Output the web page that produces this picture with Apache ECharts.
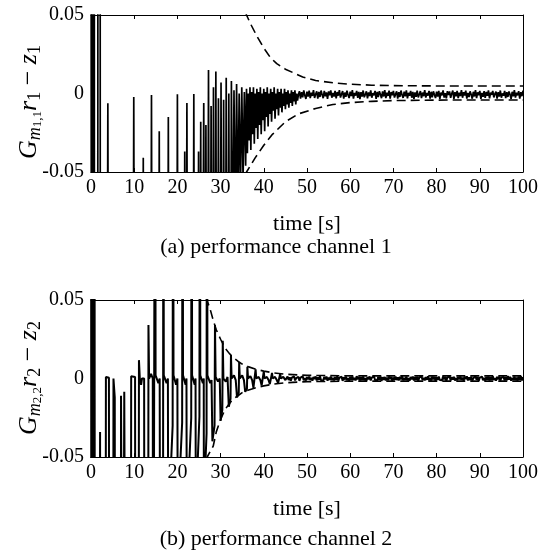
<!DOCTYPE html>
<html><head><meta charset="utf-8">
<script src="https://cdn.jsdelivr.net/npm/echarts@6/dist/echarts.min.js"></script>
<style>html,body{margin:0;padding:0;background:#fff}#c{width:552px;height:550px}</style>
</head><body><div id="c"></div><script>
// ---------- DATA ----------
var xTicks = [0,10,20,30,40,50,60,70,80,90,100];
var yTicks = [-0.05, 0, 0.05];
var captions = ['(a) performance channel 1', '(b) performance channel 2'];
var xName = 'time [s]';

// channel 1: transient part [t, value] (values outside ±0.05 run off the axes)
var ch1Transient = [
[0,0.3],[0.1,-0.3],[0.2,0.3],[0.3,-0.3],[0.4,0.3],[0.5,-0.3],[0.6,0.3],[0.7,-0.3],[0.75,0.3],[0.8,-0.3],
[1.55,-0.3],[1.62,0.3],[2.1,0.3],[2.17,-0.3],
[3.65,-0.3],[3.9,-0.0062],[4.15,-0.3],
[9.65,-0.3],[9.9,-0.0022],[10.15,-0.3],
[11.85,-0.3],[12.1,-0.041],[12.35,-0.3],
[13.75,-0.3],[14.0,-0.001],[14.25,-0.3],
[15.55,-0.3],[15.8,-0.024],[16.05,-0.3],
[17.65,-0.3],[17.9,-0.015],[18.15,-0.3],
[19.75,-0.3],[20.0,-0.0005],[20.25,-0.3],
[21.45,-0.3],[21.7,-0.037],[21.95,-0.3],
[22.0,-0.3],[22.2,-0.006],[22.45,-0.3],
[23.55,-0.3],[23.8,-0.0003],[24.05,-0.3],
[24.65,-0.3],[24.9,-0.037],[25.1,-0.3],
[25.2,-0.3],[25.4,-0.018],[25.6,-0.3],
[25.9,-0.3],[26.1,-0.006],[26.35,-0.3],[26.6,-0.02],[26.9,-0.3],[27.2,0.015],[27.5,-0.3],[27.8,-0.008],
[28.1,-0.3],[28.35,0.004],[28.6,-0.3],[28.9,0.014],[29.2,-0.3],[29.5,-0.003],[29.8,-0.3],[30.1,0.007],
[30.4,-0.3],[30.7,-0.004],[31.0,-0.3],[31.3,0.01],[31.6,-0.3],[31.9,0.0],[32.2,-0.3],[32.5,0.008],
[32.8,-0.12],[33.1,0.002],[33.4,-0.09],[33.7,0.006],[34.0,-0.075],[34.3,0.0],[34.6,-0.062],[34.9,0.004],
[35.2,-0.055],[35.5,0.001],[35.8,-0.046],
[36.0,0.003],[36.2,-0.038],[36.4,0.0],[36.6,-0.03],[36.8,0.004],[37.0,-0.036],[37.2,0.001],[37.4,-0.026],[37.6,0.004],[37.8,-0.032],
[38.0,0.0],[38.2,-0.022],[38.4,0.003],[38.6,-0.029],[38.8,0.001],[39.0,-0.02],[39.2,0.004],[39.4,-0.026],[39.6,0.0],[39.8,-0.017],
[40.0,0.003],[40.2,-0.024],[40.4,0.001],[40.6,-0.015],[40.8,0.004],[41.0,-0.021],[41.2,0.0],[41.4,-0.013],[41.6,0.003],[41.8,-0.018],
[42.0,0.001],[42.2,-0.011],[42.4,0.004],[42.6,-0.016],[42.8,0.0],[43.0,-0.01],[43.2,0.003],[43.4,-0.014],[43.6,0.001],[43.8,-0.009],
[44.0,0.003],[44.2,-0.012],[44.4,0.0],[44.6,-0.008],[44.8,0.003],[45.0,-0.01],[45.2,0.001],[45.4,-0.007],[45.6,0.002],[45.8,-0.009],
[46.0,0.0],[46.2,-0.006],[46.4,0.002],[46.6,-0.008],[46.8,0.001],[47.0,-0.005],[47.2,0.002],[47.4,-0.007],[47.6,0.0],[47.8,-0.0045]
];
// channel 1: steady-state samples from t=48 every 0.25 s
var ch1SteadyStart = 48, ch1SteadyStep = 0.25;
var ch1Steady = [
-0.001, 0.0015, -0.0032, 0.0008, -0.0025, 0.002, -0.0012, -0.0035, 0.0012, -0.002,
0.0018, -0.003, 0.0005, -0.0015, 0.0021, -0.0028, -0.0005, 0.0014, -0.0033, 0.001,
-0.0022, 0.0019, -0.0008, -0.003, 0.0016, -0.0018, 0.0007, -0.0034, 0.0013, -0.0011,
0.002, -0.0027, 0.0004, -0.0019, 0.0017, -0.0031, 0.0009, -0.0014, 0.0022, -0.0026,
-0.0003, 0.0015, -0.0033, 0.0006, -0.0021, 0.0018, -0.0009, -0.0029, 0.0012, -0.0017,
0.0021, -0.0032, 0.0003, -0.0013, 0.0016, -0.0028, 0.0011, -0.0036, 0.0008, -0.002,
0.0019, -0.0024, -0.0006, 0.0014, -0.0031, 0.0007, -0.0016, 0.002, -0.0027, 0.0002,
-0.0012, 0.0017, -0.0034, 0.001, -0.0023, 0.0015, -0.0007, -0.003, 0.0013, -0.0019,
0.0022, -0.0029, 0.0005, -0.0015, 0.0018, -0.0033, 0.0009, -0.0011, 0.0016, -0.0026,
-0.0004, 0.0014, -0.0032, 0.0008, -0.0022, 0.0019, -0.001, -0.0028, 0.0012, -0.0018,
0.002, -0.0031, 0.0004, -0.0014, 0.0017, -0.0027, 0.001, -0.0035, 0.0007, -0.0021,
0.0018, -0.0025, -0.0005, 0.0015, -0.003, 0.0006, -0.0017, 0.0021, -0.0026, 0.0003,
-0.0013, 0.0016, -0.0033, 0.0011, -0.0024, 0.0014, -0.0008, -0.0029, 0.0012, -0.002,
0.0017, -0.0034, 0.0006, -0.0012, 0.002, -0.0026, 0.0002, -0.0031, 0.0015, -0.0009,
0.0013, -0.0028, -0.0002, 0.0019, -0.0035, 0.0009, -0.0018, 0.0016, -0.003, 0.0005,
-0.0016, 0.0021, -0.0027, 0.0008, -0.0013, 0.0018, -0.0032, 0.0004, -0.0023, 0.0014,
-0.0006, -0.0033, 0.0011, -0.0019, 0.0022, -0.0029, 0.0007, -0.0011, 0.0017, -0.0034,
0.0003, -0.0021, 0.0015, -0.0028, 0.001, -0.0015, 0.002, -0.0031, 0.0006, -0.0008,
0.0016, -0.0025, -0.0003, 0.0012, -0.0033, 0.0008, -0.002, 0.0019, -0.0027, 0.0001,
-0.0014, 0.0017, -0.003, 0.0009, -0.0022, 0.0013, -0.0007, -0.0035, 0.0011, -0.0018,
0.0021, -0.0026, 0.0005, -0.0012, 0.0015, -0.0032, 0.0008, -0.0017, 0.0018
];
var ch1Upper = [[35.8,0.052],[36,0.05],[37,0.044],[38.5,0.036],[40,0.029],[41.5,0.023],[43,0.019],[45,0.0155],[47,0.013],[49,0.0105],[52,0.0083],[56,0.0068],[60,0.0059],[65,0.0053],[70,0.005],[80,0.0048],[100,0.0048]];
var ch1Lower = [[35.8,-0.052],[36,-0.05],[38,-0.041],[40,-0.033],[42,-0.026],[45,-0.018],[48,-0.013],[52,-0.0095],[56,-0.007],[60,-0.0058],[65,-0.005],[70,-0.0045],[80,-0.0042],[100,-0.0041]];

// channel 2: transient part [t, value]
var ch2Transient = [
[0,0.3],[0.1,-0.3],[0.2,0.3],[0.3,-0.3],[0.4,0.3],[0.5,-0.3],[0.6,0.3],[0.7,-0.3],[0.8,0.3],[0.9,-0.3],
[2.0,-0.3],[2.1,-0.034],[2.2,-0.3],
[3.35,-0.3],[3.45,0.001],[4.15,0.0005],[4.25,-0.3],
[5.1,-0.3],[5.2,0.0],[5.5,-0.012],[5.6,-0.3],
[6.85,-0.3],[6.95,-0.011],[7.25,-0.0105],[7.35,-0.3],
[7.6,-0.3],[7.7,-0.0085],[8.0,-0.009],[8.1,-0.3],
[9.2,-0.3],[9.3,0.0015],[10.2,0.001],[10.3,-0.3],
[11.0,-0.3],[11.1,0.0117],[11.3,0.0],[11.6,-0.004],[11.8,0.0],[12.3,0.0],[12.4,-0.3],
[13.2,-0.3],[13.3,0.034],[13.45,0.0],[13.9,0.003],[14.3,0.0],[14.4,-0.3],
[14.75,-0.3],[14.85,0.3],[14.95,0.002],[15.6,-0.003],[15.9,0.0],[16.1,-0.3],
[16.65,-0.3],[16.75,0.3],[16.85,0.002],[17.5,-0.003],[17.8,0.0],[18.0,-0.3],
[18.2,-0.075],[18.9,-0.03],[19.0,0.3],[19.1,0.002],[19.7,-0.004],[20.0,0.0],[20.2,-0.3],
[20.4,-0.07],[21.1,-0.028],[21.2,0.3],[21.3,0.002],[21.9,-0.004],[22.1,0.0],[22.3,-0.3],
[22.5,-0.07],[23.2,-0.025],[23.3,0.3],[23.4,0.002],[24.0,-0.004],[24.2,0.0],[24.4,-0.3],
[24.6,-0.06],[25.1,-0.024],[25.2,0.3],[25.3,0.002],[25.9,-0.003],[26.1,0.0],[26.2,-0.3],
[26.4,-0.06],[26.75,-0.035],[26.85,0.3],[26.95,0.002],[27.6,-0.003],[27.9,-0.001],
[28.1,-0.04],[28.6,-0.03],[28.7,0.034],[28.85,0.001],[29.4,-0.002],[29.8,0.0],
[30.0,-0.027],[30.4,-0.02],[30.5,0.024],[30.65,0.0],[31.2,-0.002],[31.6,0.001],
[31.9,-0.018],[32.3,-0.013],[32.4,0.015],[32.55,0.0],[33.1,0.002],[33.5,-0.001],
[33.8,-0.012],[34.2,-0.009],[34.3,0.0105],[34.45,0.0],[35.0,0.002],[35.4,-0.001],
[35.7,-0.0085],[36.1,-0.0065],[36.2,0.0075],[36.35,0.0],[36.9,0.0015],[37.3,-0.001],
[37.6,-0.006],[38.0,-0.005],[38.1,0.0058],[38.25,0.0],[38.8,0.001],[39.2,-0.001],
[39.5,-0.0045],[39.9,-0.004],[40.0,0.0045],[40.15,0.0],[40.7,0.001],[41.1,-0.001],
[41.4,-0.0036],[41.8,-0.003],[41.9,0.0036],[42.05,0.0],[42.6,0.001],[43.0,-0.001],
[43.3,-0.003],[43.7,-0.0025],[43.8,0.003],[43.95,0.0],[44.5,0.001],[45.0,-0.001]
];
// channel 2: steady-state samples from t=45.5 every 0.25 s
var ch2SteadyStart = 45.5, ch2SteadyStep = 0.25;
var ch2Steady = [
0.0012, -0.0010, 0.0008, -0.0014, 0.0005, -0.0007, 0.0013, -0.0012, 0.0003, -0.0009,
0.0011, -0.0015, 0.0006, -0.0004, 0.0014, -0.0011, 0.0002, -0.0013, 0.0009, -0.0006,
0.0012, -0.0010, 0.0004, -0.0014, 0.0010, -0.0003, 0.0013, -0.0012, 0.0007, -0.0008,
0.0015, -0.0011, 0.0001, -0.0013, 0.0011, -0.0005, 0.0012, -0.0014, 0.0006, -0.0009,
0.0013, -0.0010, 0.0003, -0.0012, 0.0009, -0.0007, 0.0014, -0.0013, 0.0005, -0.0004,
0.0011, -0.0015, 0.0008, -0.0006, 0.0012, -0.0011, 0.0002, -0.0014, 0.0010, -0.0008,
0.0013, -0.0009, 0.0004, -0.0012, 0.0015, -0.0005, 0.0011, -0.0013, 0.0007, -0.0010,
0.0012, -0.0011, 0.0003, -0.0014, 0.0009, -0.0006, 0.0013, -0.0012, 0.0006, -0.0003,
0.0014, -0.0010, 0.0001, -0.0013, 0.0011, -0.0007, 0.0012, -0.0015, 0.0008, -0.0009,
0.0010, -0.0012, 0.0005, -0.0011, 0.0013, -0.0004, 0.0009, -0.0014, 0.0006, -0.0008,
0.0012, -0.0010, 0.0007, -0.0013, 0.0011, -0.0006, 0.0014, -0.0011, 0.0004, -0.0009,
0.0013, -0.0012, 0.0002, -0.0014, 0.0010, -0.0005, 0.0012, -0.0013, 0.0008, -0.0007,
0.0011, -0.0014, 0.0006, -0.0003, 0.0015, -0.0010, 0.0003, -0.0012, 0.0009, -0.0008,
0.0014, -0.0011, 0.0004, -0.0013, 0.0012, -0.0006, 0.0010, -0.0015, 0.0007, -0.0009,
0.0012, -0.0010, 0.0002, -0.0012, 0.0013, -0.0005, 0.0011, -0.0014, 0.0006, -0.0004,
0.0015, -0.0012, 0.0008, -0.0007, 0.0011, -0.0013, 0.0003, -0.0011, 0.0010, -0.0006,
0.0013, -0.0009, 0.0005, -0.0014, 0.0012, -0.0004, 0.0014, -0.0012, 0.0007, -0.0010,
0.0011, -0.0013, 0.0001, -0.0011, 0.0014, -0.0008, 0.0009, -0.0015, 0.0006, -0.0005,
0.0012, -0.0011, 0.0004, -0.0013, 0.0010, -0.0007, 0.0013, -0.0012, 0.0008, -0.0009,
0.0014, -0.0010, 0.0003, -0.0014, 0.0011, -0.0005, 0.0012, -0.0013, 0.0005, -0.0006,
0.0010, -0.0012, 0.0007, -0.0011, 0.0015, -0.0008, 0.0011, -0.0014, 0.0004, -0.0010,
0.0013, -0.0011, 0.0006, -0.0013, 0.0012, -0.0007, 0.0014, -0.0012, 0.0009
];
var ch2Upper = [[26.6,0.052],[26.8,0.05],[27.5,0.045],[28.3,0.037],[29,0.031],[30,0.025],[31,0.0195],[32,0.016],[33,0.0132],[34,0.011],[35,0.0092],[36.5,0.0074],[38,0.006],[40,0.0047],[42,0.0037],[45,0.0027],[50,0.002],[60,0.0017],[100,0.0017]];
var ch2Lower = [[26.7,-0.052],[26.9,-0.05],[28.3,-0.043],[29,-0.034],[30,-0.026],[31,-0.02],[32,-0.016],[33,-0.013],[34,-0.011],[35,-0.009],[36.5,-0.0073],[38,-0.006],[40,-0.0047],[42,-0.0037],[45,-0.0027],[50,-0.002],[60,-0.0017],[100,-0.0017]];

// ---------- CHART ----------
function withSteady(trans, t0, dt, vals) {
  return trans.concat(vals.map(function (v, i) { return [+(t0 + i * dt).toFixed(3), v]; }));
}
var ch1Data = withSteady(ch1Transient, ch1SteadyStart, ch1SteadyStep, ch1Steady);
var ch2Data = withSteady(ch2Transient, ch2SteadyStart, ch2SteadyStep, ch2Steady);

var SERIF = 'Liberation Serif';
var grids = [
  {left: 91, top: 15, width: 432, height: 157},
  {left: 91, top: 300, width: 432, height: 157}
];
var xAxes = [], yAxes = [];
grids.forEach(function (g, gi) {
  var base = {gridIndex: gi, type: 'value', min: xTicks[0], max: xTicks[xTicks.length - 1], interval: 10,
    axisLine: {show: true, onZero: false, lineStyle: {color: '#000', width: 1}},
    axisTick: {show: true, inside: true, length: 4, lineStyle: {color: '#000', width: 1}},
    splitLine: {show: false}};
  xAxes.push(Object.assign({}, base, {position: 'bottom',
    axisLabel: {color: '#000', fontFamily: SERIF, fontSize: 20, margin: 6},
    name: xName, nameLocation: 'middle', nameGap: 41,
    nameTextStyle: {color: '#000', fontFamily: SERIF, fontSize: 22}}));
  xAxes.push(Object.assign({}, base, {position: 'top', axisLabel: {show: false}}));
  var ybase = {gridIndex: gi, type: 'value', min: yTicks[0], max: yTicks[2], interval: 0.05,
    axisLine: {show: true, onZero: false, lineStyle: {color: '#000', width: 1}},
    axisTick: {show: true, inside: true, length: 4, lineStyle: {color: '#000', width: 1}},
    splitLine: {show: false}};
  yAxes.push(Object.assign({}, ybase, {position: 'left',
    axisLabel: {color: '#000', fontFamily: SERIF, fontSize: 20, margin: 7,
      formatter: function (v) { return Math.abs(v) < 1e-9 ? '0' : v.toFixed(2); }}}));
  yAxes.push(Object.assign({}, ybase, {position: 'right', axisLabel: {show: false}}));
});

function sig(data, gi, w) {
  return {type: 'line', xAxisIndex: gi * 2, yAxisIndex: gi * 2, data: data, showSymbol: false,
    symbol: 'none', clip: true, silent: true, sampling: null,
    lineStyle: {color: '#000', width: w}, z: 2};
}
function env(data, gi) {
  return {type: 'line', xAxisIndex: gi * 2, yAxisIndex: gi * 2, data: data, showSymbol: false,
    symbol: 'none', clip: true, silent: true, smooth: false,
    lineStyle: {color: '#000', width: 1.6, type: [9, 5]}, z: 3};
}

var richY = {
  i: {fontFamily: SERIF, fontStyle: 'italic', fontSize: 26, lineHeight: 30},
  n: {fontFamily: SERIF, fontSize: 26, lineHeight: 30},
  sm: {fontFamily: SERIF, fontStyle: 'italic', fontSize: 18, lineHeight: 16, verticalAlign: 'bottom'},
  sd: {fontFamily: SERIF, fontSize: 18, lineHeight: 16, verticalAlign: 'bottom'},
  ss: {fontFamily: SERIF, fontSize: 13, lineHeight: 6, verticalAlign: 'bottom'}
};
function ylabel(k, cy) {
  return {type: 'text', x: 29, y: cy, rotation: Math.PI / 2, silent: true,
    style: {text: '{i|G}{sm|m}{ss|' + k + ',' + k + '}{i|r}{sd|' + k + '}{n| − }{i|z}{sd|' + k + '}',
      rich: richY, align: 'center', verticalAlign: 'middle', fill: '#000'}};
}
function caption(txt, cy) {
  return {type: 'text', x: 276, y: cy, silent: true,
    style: {text: txt, fontFamily: SERIF, fontSize: 22, fill: '#000', align: 'center', verticalAlign: 'middle'}};
}

var chart = echarts.init(document.getElementById('c'), null, {renderer: 'canvas'});
chart.setOption({
  animation: false,
  backgroundColor: '#fff',
  grid: grids,
  xAxis: xAxes,
  yAxis: yAxes,
  series: [sig(ch1Data, 0, 1.7), env(ch1Upper, 0), env(ch1Lower, 0),
           sig(ch2Data, 1, 2), env(ch2Upper, 1), env(ch2Lower, 1)],
  graphic: [ylabel(1, 102), ylabel(2, 378), caption(captions[0], 247), caption(captions[1], 539)]
});
</script></body></html>
